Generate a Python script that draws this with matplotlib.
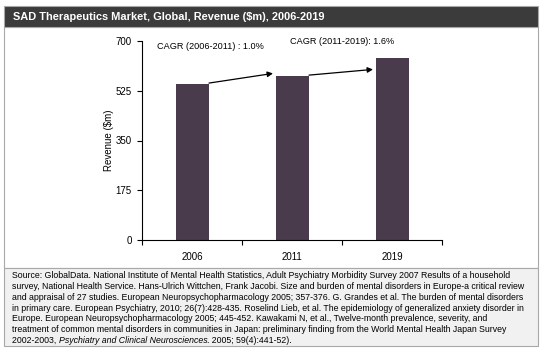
import matplotlib

matplotlib.use("Agg")
import matplotlib.pyplot as plt
from matplotlib.patches import Rectangle

plt.rcParams["font.family"] = ["Liberation Sans", "DejaVu Sans"]

# data
years = ["2006", "2011", "2019"]
revenue = [548, 576, 641]
cagr_labels = ["CAGR (2006-2011) : 1.0%", "CAGR (2011-2019): 1.6%"]
y_ticks = [0, 175, 350, 525, 700]

TITLE = "SAD Therapeutics Market, Global, Revenue ($m), 2006-2019"
SOURCE_LINES = [
    "Source: GlobalData. National Institute of Mental Health Statistics, Adult Psychiatry Morbidity Survey 2007 Results of a household",
    "survey, National Health Service. Hans-Ulrich Wittchen, Frank Jacobi. Size and burden of mental disorders in Europe-a critical review",
    "and appraisal of 27 studies. European Neuropsychopharmacology 2005; 357-376. G. Grandes et al. The burden of mental disorders",
    "in primary care. European Psychiatry, 2010; 26(7):428-435. Roselind Lieb, et al. The epidemiology of generalized anxiety disorder in",
    "Europe. European Neuropsychopharmacology 2005; 445-452. Kawakami N, et al., Twelve-month prevalence, severity, and",
    "treatment of common mental disorders in communities in Japan: preliminary finding from the World Mental Health Japan Survey",
]
SOURCE_LAST = [("2002-2003, ", "normal"),
               ("Psychiatry and Clinical Neurosciences", "italic"),
               (". 2005; 59(4):441-52).", "normal")]

W, H = 545, 357
BAR = "#4a3b4c"
EDGE = "#a8a8a8"
SRC_FS = 6.3


def fx(x):
    return x / W


def fy(y):
    return 1 - y / H


fig = plt.figure(figsize=(W / 100, H / 100), dpi=100)

# frame, title bar, source box (behind the axes)
boxes = [
    ((4, 268), 241, "white"),
    ((4, 27), 21, "#3b3b3b"),
    ((4, 346), 78, "#f1f1f1"),
]
for (x0, y0), h, fc in boxes:
    fig.patches.append(Rectangle((fx(x0), fy(y0)), fx(534), h / H,
                                 transform=fig.transFigure, facecolor=fc,
                                 edgecolor=EDGE, lw=0.8, zorder=-5))
fig.text(fx(13), fy(16.5), TITLE, color="white", fontsize=7.9,
         fontweight="bold", va="center", ha="left")

ax = fig.add_axes([fx(142), fy(240), fx(300), 199 / H])
ax.patch.set_visible(False)
x = range(len(years))
ax.bar(x, revenue, width=0.33, color=BAR, zorder=2)
ax.set_xlim(-0.5, len(years) - 0.5)
ax.set_ylim(0, 700)
ax.set_yticks(y_ticks)
ax.set_yticklabels([str(t) for t in y_ticks], fontsize=7)
ax.set_xticks([i - 0.5 for i in range(len(years) + 1)])
ax.set_xticklabels([])
ax.set_xticks(list(x), minor=True)
ax.set_xticklabels(years, minor=True, fontsize=7)
ax.tick_params(axis="x", which="major", length=3.5, width=0.8, direction="out")
ax.tick_params(axis="x", which="minor", length=0, pad=9)
ax.tick_params(axis="y", length=3.5, width=0.8, pad=4)
for s in ("top", "right"):
    ax.spines[s].set_visible(False)
for s in ("left", "bottom"):
    ax.spines[s].set_linewidth(0.8)
ax.set_ylabel("Revenue ($m)", fontsize=7, labelpad=1)

# CAGR arrows and labels
for i in range(len(years) - 1):
    ax.annotate("", xy=(i + 0.81, revenue[i] + 38 - 14 * i),
                xytext=(i + 0.17, revenue[i] + 4),
                arrowprops=dict(arrowstyle="-|>", color="black", lw=0.9,
                                mutation_scale=8, shrinkA=0, shrinkB=0))
ax.text(-0.35, 680, cagr_labels[0], fontsize=6.6, va="center", ha="left")
ax.text(0.98, 700, cagr_labels[1], fontsize=6.6, va="center", ha="left")

# source text
for k, line in enumerate(SOURCE_LINES):
    fig.text(fx(12), fy(276 + 10.7 * k), line, fontsize=SRC_FS,
             va="center", ha="left")

fig.canvas.draw()
renderer = fig.canvas.get_renderer()
xpos = 12
for part, style in SOURCE_LAST:
    t = fig.text(fx(xpos), fy(276 + 10.7 * 6), part, fontsize=SRC_FS,
                 style=style, va="center", ha="left")
    xpos = t.get_window_extent(renderer).x1

fig.savefig("out.png", dpi=100)
